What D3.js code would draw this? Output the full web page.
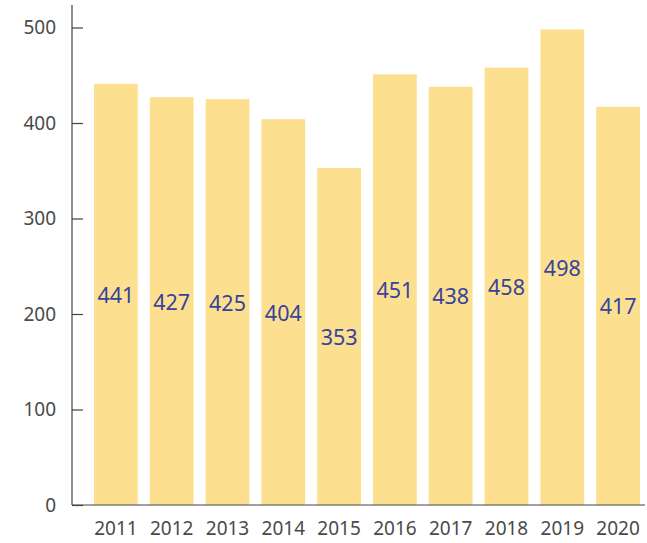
<!DOCTYPE html>
<html>
<head>
<meta charset="utf-8">
<script src="https://cdn.jsdelivr.net/npm/d3@7"></script>
<style>
  body { margin: 0; background: #fff; }
  text { font-family: "Noto Sans", sans-serif; }
</style>
</head>
<body>
<svg id="chart" width="647" height="543"></svg>
<script>
// data
var years = ["2011","2012","2013","2014","2015","2016","2017","2018","2019","2020"];
var values = [441, 427, 425, 404, 353, 451, 438, 458, 498, 417];
var yTicks = [0, 100, 200, 300, 400, 500];

var svg = d3.select("#chart");

var x = d3.scaleBand()
          .domain(years)
          .range([88, 646])
          .paddingInner(0.215)
          .paddingOuter(0.1075);

var y = d3.scaleLinear()
          .domain([0, 500])
          .range([505, 27.5]);

//bars
svg.append("g")
   .selectAll("rect")
   .data(values)
   .enter().append("rect")
   .attr("x", function(d,i) { return x(years[i]); })
   .attr("y", function(d) { return y(d); })
   .attr("width", x.bandwidth())
   .attr("height", function(d) { return y(0) - y(d); })
   .attr("fill", "#fde08f");

//value labels in the middle of each bar
svg.append("g")
   .selectAll("text")
   .data(values)
   .enter().append("text")
   .attr("x", function(d,i) { return x(years[i]) + x.bandwidth()/2; })
   .attr("y", function(d) { return y(d/2); })
   .attr("text-anchor", "middle")
   .attr("dominant-baseline", "central")
   .attr("font-size", 21.5)
   .attr("fill", "#36449c")
   .text(function(d) { return d; });

//y axis, ticks point into the plot
var yAxis = svg.append("g")
   .attr("transform", "translate(72,0)")
   .call(d3.axisRight(y).tickValues(yTicks).tickSize(11).tickSizeOuter(0));
yAxis.select(".domain").remove();
yAxis.selectAll("line").attr("stroke", "#444").attr("stroke-width", 1.2);
yAxis.selectAll("text")
     .attr("x", -16)
     .attr("text-anchor", "end")
     .attr("font-size", 19)
     .attr("fill", "#4a4a4a");
yAxis.append("line")
     .attr("y1", 5).attr("y2", y(0))
     .attr("stroke", "#444").attr("stroke-width", 1.2);

//x axis
var xAxis = svg.append("g")
   .attr("transform", "translate(0," + y(0) + ")")
   .call(d3.axisBottom(x).tickSize(0));
xAxis.select(".domain").remove();
xAxis.selectAll("text")
     .attr("y", 17)
     .attr("font-size", 19)
     .attr("fill", "#4a4a4a");
xAxis.append("line")
     .attr("x1", 72).attr("x2", 645)
     .attr("stroke", "#444").attr("stroke-width", 1.2);
</script>
</body>
</html>
